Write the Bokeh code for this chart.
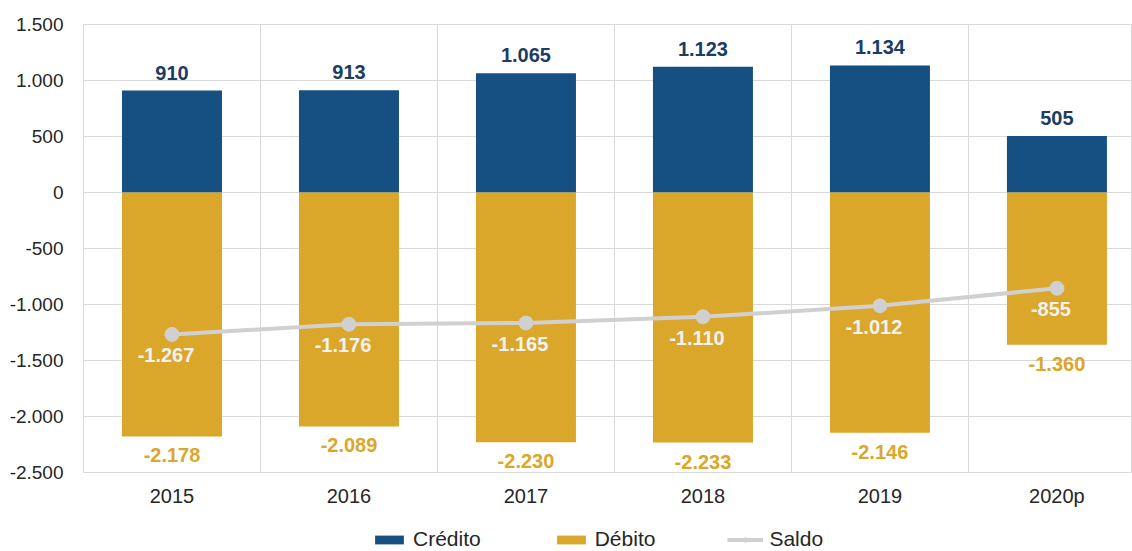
from bokeh.plotting import figure
from bokeh.models import ColumnDataSource, FixedTicker, Legend, LegendItem, LabelSet, Range1d
from bokeh.layouts import column
from bokeh.core.properties import value
from bokeh.embed import file_html
from bokeh.resources import INLINE

years = ["2015", "2016", "2017", "2018", "2019", "2020p"]
credito = [910, 913, 1065, 1123, 1134, 505]
debito = [-2178, -2089, -2230, -2233, -2146, -1360]
saldo = [-1267, -1176, -1165, -1110, -1012, -855]
series_names = ["Crédito", "Débito", "Saldo"]

y_ticks = [-2500, -2000, -1500, -1000, -500, 0, 500, 1000, 1500]

def fmt(v):
    s = f"{abs(v):,}".replace(",", ".")
    return ("-" if v < 0 else "") + s

xs = list(range(len(years)))
src = ColumnDataSource(dict(
    x=xs, credito=credito, debito=debito, saldo=saldo,
    cl=[fmt(v) for v in credito], dl=[fmt(v) for v in debito], sl=[fmt(v) for v in saldo],
))

FONT = "Liberation Sans"
C_BLUE = "#165082"
C_GOLD = "#DAA72A"
C_GRAY = "#D0D0D0"

p = figure(width=1132, height=523, output_backend="svg", toolbar_location=None,
           x_range=(-0.5, 5.427), y_range=(-2500, 1500),
           min_border_left=83, min_border_top=24, min_border_bottom=51, min_border_right=0)
p.background_fill_color = "white"
p.border_fill_color = "white"
p.outline_line_color = "#D9D9D9"
p.outline_line_width = 1

p.xgrid.ticker = FixedTicker(ticks=[-0.5, 0.5, 1.5, 2.5, 3.5, 4.5, 5.5])
p.xgrid.grid_line_color = "#D9D9D9"
p.ygrid.grid_line_color = "#D9D9D9"
p.ygrid.ticker = FixedTicker(ticks=y_ticks)

p.xaxis.ticker = FixedTicker(ticks=xs)
p.xaxis.major_label_overrides = {i: y for i, y in enumerate(years)}
p.yaxis.ticker = FixedTicker(ticks=y_ticks)
p.yaxis.major_label_overrides = {v: fmt(v) for v in y_ticks}
for ax in (p.xaxis[0], p.yaxis[0]):
    ax.axis_line_color = None
    ax.major_tick_line_color = None
    ax.minor_tick_line_color = None
    ax.major_label_text_font = FONT
    ax.major_label_text_color = "#262626"
p.xaxis.major_label_text_font_size = "20px"
p.yaxis.major_label_text_font_size = "19px"
p.xaxis.major_label_standoff = 6
p.yaxis.major_label_standoff = 14

bw = 0.565
p.vbar(x="x", top="credito", bottom=0, width=bw, source=src, fill_color=C_BLUE, line_color=None)
p.vbar(x="x", top=0, bottom="debito", width=bw, source=src, fill_color=C_GOLD, line_color=None)
p.line(x="x", y="saldo", source=src, line_color=C_GRAY, line_width=4)
p.scatter(x="x", y="saldo", source=src, size=14, fill_color=C_GRAY, line_color=C_GRAY)

lab_kw = dict(source=src, text_align="center", text_font=value(FONT), text_font_style="bold",
              text_font_size="20px")
p.add_layout(LabelSet(x="x", y="credito", text="cl", text_baseline="bottom", y_offset=11,
                      text_color="#1B3D62", **lab_kw))
p.add_layout(LabelSet(x="x", y="debito", text="dl", text_baseline="top", y_offset=-12,
                      text_color=C_GOLD, **lab_kw))
p.add_layout(LabelSet(x="x", y="saldo", text="sl", text_baseline="top", y_offset=-14, x_offset=-6,
                      text_color="#F2F2F2", **lab_kw))

# legend strip (proxy glyphs placed outside the visible range)
lg = figure(width=1132, height=28, output_backend="svg", toolbar_location=None,
            x_range=Range1d(0, 1), y_range=Range1d(0, 1), x_axis_type=None, y_axis_type=None,
            min_border_left=0, min_border_right=0, min_border_top=0, min_border_bottom=0)
lg.outline_line_color = None
lg.background_fill_color = None
lg.border_fill_color = None
d1 = lg.vbar(x=[5], top=[1], width=0.1, fill_color=C_BLUE, line_color=None)
d2 = lg.vbar(x=[5], top=[1], width=0.1, fill_color=C_GOLD, line_color=None)
d3 = lg.line(x=[5, 6], y=[5, 5], line_color=C_GRAY, line_width=4)
d4 = lg.scatter(x=[5], y=[5], size=12, fill_color=C_GRAY, line_color=C_GRAY)

legend = Legend(items=[
    LegendItem(label=series_names[0], renderers=[d1]),
    LegendItem(label=series_names[1], renderers=[d2]),
    LegendItem(label=series_names[2], renderers=[d3, d4]),
], orientation="horizontal", location=(288, 0))
legend.label_text_font = FONT
legend.label_text_font_size = "21px"
legend.label_text_color = "#262626"
legend.glyph_width = 36
legend.glyph_height = 11
legend.label_standoff = 6
legend.spacing = 72
legend.border_line_color = None
legend.background_fill_alpha = 0
legend.padding = 0
legend.margin = 0
lg.add_layout(legend)

layout = column(p, lg, spacing=0)
open("out.html", "w").write(file_html(layout, INLINE))
